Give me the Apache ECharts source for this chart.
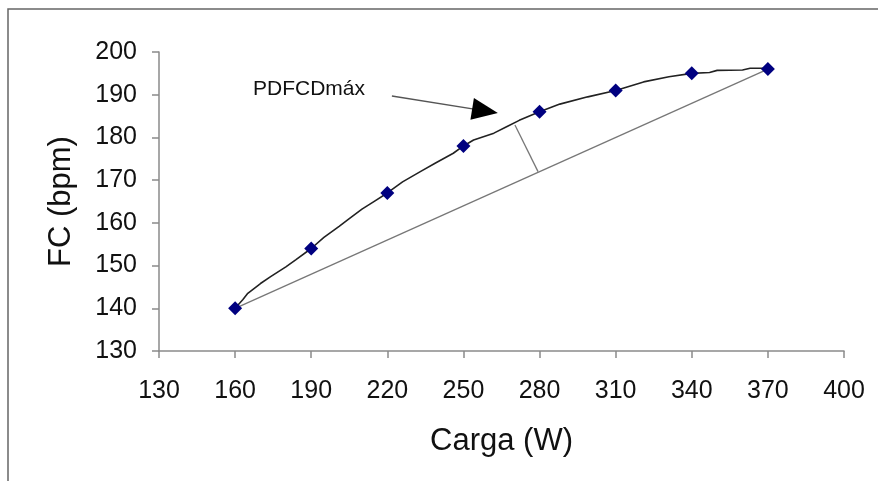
<!DOCTYPE html>
<html>
<head>
<meta charset="utf-8">
<script src="https://cdn.jsdelivr.net/npm/echarts@6/dist/echarts.min.js"></script>
<style>
  html, body { margin: 0; padding: 0; background: #fff; }
  #chart { width: 878px; height: 481px; }
</style>
</head>
<body>
<div id="chart"></div>
<script>
// cargas y FC medidas (puntos)
const loads = [160, 190, 220, 250, 280, 310, 340, 370];
const hr = [140, 154, 167, 178, 186, 191, 195, 196];

// trazo continuo de la FC
const traceX = [160, 163, 165, 170, 174, 180, 184, 190, 195, 201, 205, 210, 215, 220, 226, 233, 239, 246, 250, 254, 262, 267, 272, 276, 280, 288, 299, 310, 321, 331, 340, 347, 350, 360, 363, 370];
const traceY = [140, 142, 143.5, 145.8, 147.4, 149.7, 151.4, 154, 156.6, 159.2, 161, 163.2, 165.1, 167, 169.6, 172, 174, 176.3, 178, 179.4, 181, 182.5, 184, 185, 186, 187.8, 189.5, 191, 193, 194.2, 195, 195.2, 195.7, 195.8, 196.2, 196.2];

// recta entre primer y último punto, y distancia máxima
const chordX = [160, 370];
const chordY = [140, 196];
const perpX = [270.3, 279.4];
const perpY = [182.9, 172];

// flecha de la anotación
const arrowX = [221.8, 258.5];
const arrowY = [189.7, 186.2];

const xTicks = { min: 130, max: 400, step: 30 };
const yTicks = { min: 130, max: 200, step: 10 };

const zip = (a, b) => a.map((v, i) => [v, b[i]]);

const myChart = echarts.init(document.getElementById('chart'), null, { renderer: 'canvas' });

const axisColor = '#8a8a8a';
const font = '"Liberation Sans", Arial, sans-serif';

const option = {
  animation: false,
  backgroundColor: '#fff',
  grid: { left: 159, right: 34, top: 52, bottom: 130 },
  xAxis: {
    type: 'value',
    min: xTicks.min,
    max: xTicks.max,
    interval: xTicks.step,
    name: 'Carga (W)',
    nameLocation: 'middle',
    nameGap: 75,
    nameTextStyle: { fontSize: 31, color: '#111', fontFamily: font },
    axisLine: { show: true, lineStyle: { color: axisColor, width: 1.5 } },
    axisTick: { show: true, length: 7, lineStyle: { color: axisColor, width: 1.5 } },
    axisLabel: { fontSize: 25, color: '#111', margin: 28, fontFamily: font },
    splitLine: { show: false }
  },
  yAxis: {
    type: 'value',
    min: yTicks.min,
    max: yTicks.max,
    interval: yTicks.step,
    name: 'FC (bpm)',
    nameLocation: 'middle',
    nameGap: 82,
    nameTextStyle: { fontSize: 31, color: '#111', fontFamily: font },
    axisLine: { show: true, lineStyle: { color: axisColor, width: 1.5 } },
    axisTick: { show: true, length: 7, lineStyle: { color: axisColor, width: 1.5 } },
    axisLabel: { fontSize: 25, color: '#111', margin: 22, fontFamily: font },
    splitLine: { show: false }
  },
  graphic: [
    // marco
    {
      type: 'polyline',
      shape: { points: [[8, 481], [8, 9], [878, 9]] },
      style: { stroke: '#666', lineWidth: 1.5, fill: null },
      silent: true
    },
    {
      type: 'text',
      left: 253,
      top: 79,
      style: { text: 'PDFCDmáx', fontSize: 21, fill: '#111', fontFamily: font }
    }
  ],
  series: [
    {
      type: 'line',
      data: zip(chordX, chordY),
      symbol: 'none',
      lineStyle: { color: '#777', width: 1.3 },
      z: 2
    },
    {
      type: 'line',
      data: zip(perpX, perpY),
      symbol: 'none',
      lineStyle: { color: '#777', width: 1.3 },
      z: 2
    },
    {
      type: 'line',
      data: zip(arrowX, arrowY),
      symbol: 'none',
      lineStyle: { color: '#555', width: 1.3 },
      markLine: {
        silent: true,
        symbol: ['none', 'triangle'],
        symbolSize: [22, 26],
        label: { show: false },
        lineStyle: { color: '#000', width: 0, type: 'solid' },
        itemStyle: { color: '#000' },
        data: [[{ coord: [arrowX[0], arrowY[0]] }, { coord: [arrowX[1], arrowY[1]] }]]
      },
      z: 2
    },
    {
      type: 'line',
      data: zip(traceX, traceY),
      symbol: 'none',
      lineStyle: { color: '#222', width: 1.6 },
      z: 3
    },
    {
      type: 'scatter',
      data: zip(loads, hr),
      symbol: 'diamond',
      symbolSize: 14,
      itemStyle: { color: '#000080', opacity: 1 },
      z: 4
    }
  ]
};

myChart.setOption(option);
window.addEventListener('resize', myChart.resize);
</script>
</body>
</html>
